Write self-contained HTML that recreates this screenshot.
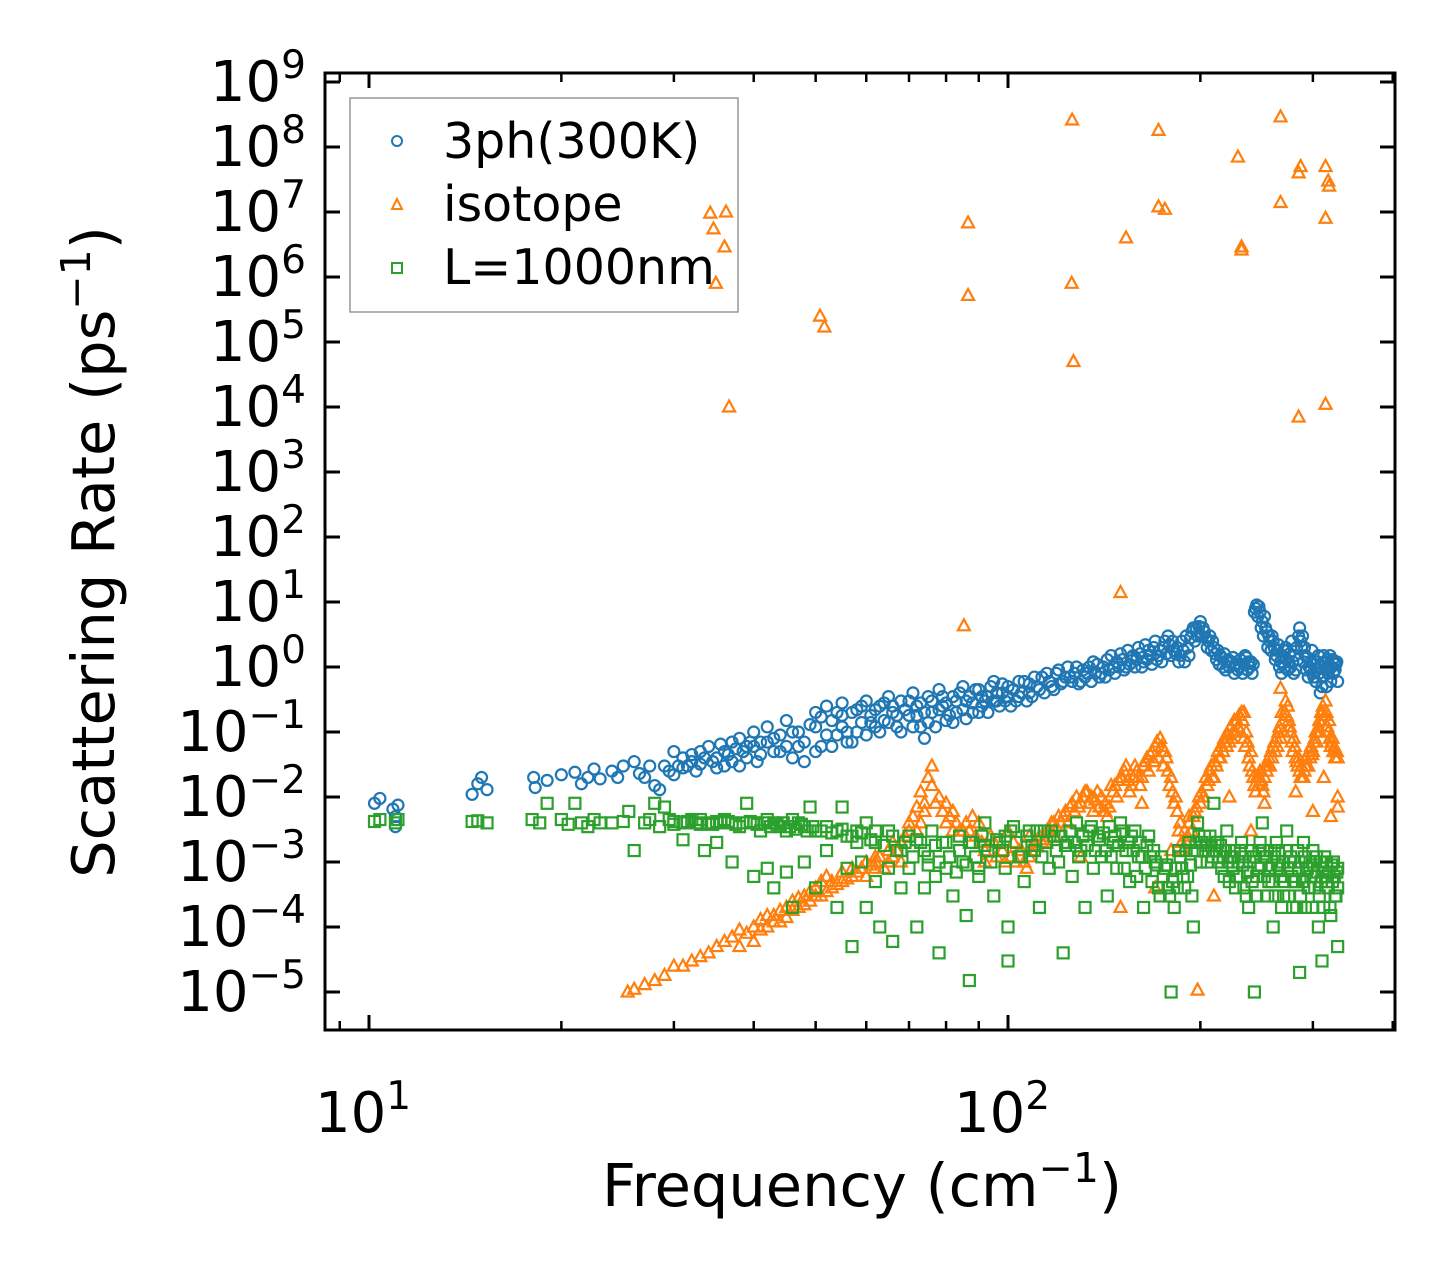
<!DOCTYPE html>
<html><head><meta charset="utf-8"><style>
html,body{margin:0;padding:0;background:#fff;}
svg{display:block;font-family:"DejaVu Sans","Liberation Sans",sans-serif;}
</style></head><body>
<svg id="chart" width="1455" height="1280" viewBox="0 0 1455 1280" xmlns="http://www.w3.org/2000/svg">
<rect width="1455" height="1280" fill="#fff"/>
<g>
<rect x="350" y="98" width="388" height="214" fill="#fff" stroke="#999" stroke-width="1.5"/>
<g><circle cx="397" cy="141" r="5" fill="none" stroke="#1f77b4" stroke-width="2"/><text x="443" y="158" font-size="49">3ph(300K)</text></g>
<g><polygon points="397,199 402,209 392,209" fill="none" stroke="#ff7f0e" stroke-width="2"/><text x="443" y="221" font-size="49">isotope</text></g>
<g><rect x="392" y="263" width="10" height="10" fill="none" stroke="#2ca02c" stroke-width="2"/><text x="443" y="284" font-size="49">L=1000nm</text></g>
</g>
<g id="marks"></g>
<g id="axes"></g>
<text x="862" y="1206" font-size="59" text-anchor="middle">Frequency (cm<tspan dy="-24" font-size="41">−1</tspan><tspan dy="24">)</tspan></text>
<text transform="translate(114,552) rotate(-90)" font-size="59" text-anchor="middle">Scattering Rate (ps<tspan dy="-24" font-size="41">−1</tspan><tspan dy="24">)</tspan></text>
</svg>
<script>
const xTicks = [10, 100];
const xTickLabels = ["1", "2"];
const yTicks = [-5,-4,-3,-2,-1,0,1,2,3,4,5,6,7,8,9];
const blueFreq = [10.2,10.4,10.9,11,11,11.1,14.5,14.8,15,15.3,18.1,18.2,19,20,21,21.5,22,22.5,23,24,24.5,25,26,26.5,27,27.5,28,28.5,29,29.5,30,30,31,31.5,32,33,33,34,35,35.5,36,37,37,38,38.5,39,40,40,41,42,42,43,44,45,45,46,47,48,48,50,50,51,52,53,54,55,55,56,57,58,59,60,61,62,63,64,65,66,67,68,70,71,72,73,74,75,76,78,79,80,82,83,85,86,88,90,91,93,95,96,98,100,101,104,106,108,110,112,115,117,120,122,125,128,130,133,136,140,143,146,150,153,156,160,163,166,170,172,175,178,182,185,190,195,200,203,206,210,215,220,225,230,235,240,245,248,250,253,256,260,263,266,270,275,280,285,288,292,296,300,305,310,312,318,322,326];
const blueRate = [.008,.0095,.0065,.0035,.005,.0075,.011,.016,.02,.013,.02,.014,.018,.022,.024,.016,.02,.027,.019,.025,.02,.03,.035,.023,.02,.03,.015,.013,.03,.025,.05,.022,.04,.03,.045,.05,.032,.06,.04,.065,.05,.07,.035,.08,.05,.04,.1,.06,.045,.12,.07,.05,.09,.15,.06,.04,.1,.07,.035,.2,.12,.06,.25,.15,.09,.28,.18,.1,.07,.22,.14,.3,.18,.12,.25,.15,.35,.2,.12,.3,.18,.4,.25,.12,.08,.35,.2,.45,.25,.15,.35,.2,.5,.3,.2,.45,.25,.35,.6,.3,.4,.5,.25,.35,.6,.4,.7,.45,.8,.5,.9,.6,.7,1,.6,.8,1.2,.8,1.3,1,1.6,1,1.4,2,1.2,1.8,2.5,1.5,2,3,1.8,1.2,3,4,5,3.5,2.5,2,1.5,1.2,1.4,1,1.5,1.2,9,7,5,4,3,2.5,1.5,1,1.8,1.2,.8,3,2,1.5,1,.8,1.2,.5,1.5,1,1.3,1.1];
const blueExtra = [[30.5,.03],[31,.028],[32,.035],[32.5,.025],[33.5,.04],[34.5,.035],[35,.028],[36,.03],[36.5,.045],[37.5,.055],[38,.03],[39,.06],[39.5,.07],[40.5,.035],[41,.07],[43,.08],[44,.05],[46,.1],[47,.06],[49,.13],[50,.05],[51,.17],[52,.09],[53,.06],[54,.2],[55,.12],[56,.07],[57,.2],[58,.1],[59,.25],[60,.09],[61,.14],[62,.22],[63,.1],[64,.28],[65,.14],[66,.25],[67,.18],[68,.1],[69,.22],[70,.3],[71,.12],[72,.18],[73,.28],[74,.2],[75,.14],[76,.3],[77,.12],[78,.22],[79,.35],[80,.28],[81,.18],[82,.14],[83,.3],[84,.4],[85,.22],[86,.16],[87,.35],[88,.28],[89,.45],[90,.2],[91,.35],[92,.3],[93,.2],[94,.5],[95,.3],[96,.4],[97,.25],[98,.55],[99,.3],[100,.35],[102,.45],[103,.3],[104,.6],[105,.4],[107,.3],[108,.55],[109,.35],[111,.5],[113,.7],[114,.4],[116,.6],[118,.45],[119,.8],[121,.55],[123,.7],[124,1],[126,.6],[127,.8],[129,.55],[131,.9],[132,.7],[134,1],[135,.6],[137,.8],[138,1.1],[139,.7],[141,1],[142,.7],[144,.9],[145,1.5],[147,.8],[148,1.2],[149,1],[151,1.3],[152,.9],[154,1.8],[155,1.1],[157,1.5],[158,1],[159,1.3],[161,1.6],[162,1],[164,2.2],[165,1.3],[167,1.5],[168,1.1],[169,2],[171,1.3],[173,1.8],[174,1.2],[176,2.5],[177,1.6],[179,2.2],[180,1.5],[181,2.5],[183,1.6],[184,2],[186,1.5],[187,2.5],[188,1.8],[189,1.2],[191,2],[192,1.5],[193,2.8],[194,3.5],[196,2.5],[197,4],[198,3],[199,4.2],[201,3],[202,4],[204,2.8],[205,2],[207,3],[208,1.8],[209,2.5],[211,1.6],[212,1.3],[213,1.8],[214,1.1],[216,1.4],[217,1],[218,1.6],[219,.9],[221,1.3],[222,1],[224,1.2],[226,.8],[227,1.1],[229,.9],[231,1.3],[233,.8],[234,1.1],[236,1.4],[237,.9],[238,1.2],[239,1],[241,.8],[242,1.1],[243,7],[244,8],[246,6],[247,8.5],[249,4],[251,3],[252,6],[254,3.5],[255,2],[257,2.5],[258,1.8],[259,3],[261,2],[262,1.3],[264,1.8],[265,2.2],[267,1.2],[268,.8],[269,1.5],[271,1],[272,2],[273,1.3],[274,.9],[276,1.6],[277,1],[278,2.5],[279,1.2],[281,1.5],[282,.9],[283,2],[284,1.3],[286,4],[287,2.5],[289,3],[290,1.2],[291,2],[293,.9],[294,1.4],[295,.7],[297,1.2],[298,.9],[299,1.8],[301,.7],[302,1.1],[303,.6],[304,.9],[306,1.5],[307,.8],[308,.4],[309,1],[311,.7],[313,1.2],[314,.9],[315,.5],[316,1.3],[317,.8],[319,1.5],[320,.6],[321,1],[323,.8],[324,1.2],[325,.9],[327,1.2],[328,.6]];
const orangeFreq = [50.8,51.6,34.2,34.6,36.2,36,34.9,36.6,86.6,86.6,85.3,126,125.8,126.6,153,150,172,172,176,229,232,232,267,267,287,285,285,314,317,318,314,314,267,234,198,
25.4,26,27,28,29,30,31,32,33,34,35,36,37,38,40,41,42,43,44,45,46,47,48,49,50,51,52,53,55,57,60,62,65,68,70,72,73,74,75,76,77,80,85,88,90,95,100,105,110,115,120,125,128,130,133,136,140,145,150,153,156,160,165,170,173,176,180,183,186,190,195,200,205,210,215,220,225,228,232,236,240,245,250,255,260,265,268,272,275,280,285,290,295,300,305,310,314,318,322,326,328,328,328,130,150,170,210,180,240,300,320,62,66,82,92,108,118,142,162,192,222,252,282,312];
const orangeRate = [2.5e5,1.7e5,9.6e6,5.5e6,1e7,2.9e6,8e5,1e4,6.8e6,5.2e5,4.3,2.6e8,8e5,5e4,4e6,14,1.8e8,1.2e7,1.1e7,7e7,2.9e6,2.6e6,2.9e8,1.4e7,5e7,4e7,7e3,5e7,3e7,2.5e7,8e6,1.1e4,.47,.2,1.07e-5,
1e-5,1.1e-5,1.3e-5,1.5e-5,1.8e-5,2.5e-5,2.5e-5,3e-5,3.5e-5,4e-5,5e-5,6e-5,7e-5,9e-5,1e-4,1.3e-4,1.5e-4,1.2e-4,1.8e-4,2e-4,2.5e-4,2.8e-4,3e-4,3.5e-4,4e-4,5e-4,6e-4,5e-4,7e-4,8e-4,1e-3,8e-4,1.5e-3,2e-3,4e-3,7e-3,.012,.006,.02,.03,.008,.004,.003,.005,.004,.002,.003,.0015,.002,.003,.005,.007,.01,.008,.012,.006,.01,.015,.02,.03,.015,.02,.04,.06,.08,.05,.02,.01,.004,.002,.005,.008,.015,.02,.04,.06,.1,.15,.2,.1,.05,.02,.015,.03,.06,.1,.2,.3,.15,.08,.04,.02,.03,.05,.1,.2,.3,.15,.08,.05,.04,.01,.007,.0012,.0002,.0004,.0003,.0015,.003,.006,.005,.0012,.002,.003,.001,.0025,.004,.006,.008,.005,.01,.008,.012,.02];
const orangeExtra = [[38,5e-5],[39,8e-5],[40,6e-5],[41,9e-5],[42,1e-4],[43,1.5e-4],[44,1.2e-4],[45,1.4e-4],[46,1.8e-4],[47,2e-4],[48,2.2e-4],[49,2.5e-4],[50,3e-4],[51,3e-4],[52,3.5e-4],[53,4e-4],[54,4.5e-4],[55,5e-4],[56,5.5e-4],[57,6e-4],[58,7e-4],[59,8e-4],[60,6e-4],[61,9e-4],[62,1e-3],[63,1.2e-3],[64,8e-4],[65,1e-3],[66,1.2e-3],[67,1.5e-3],[68,1e-3],[69,2.5e-3],[70,3e-3],[71,5e-3],[72,3e-3],[73,4e-3],[74,8e-3],[76,.015],[78,.01],[79,.006],[80,.008],[81,.005],[82,.006],[83,.004],[84,.003],[86,.004],[87,.003],[89,.0025],[91,.002],[92,.0015],[94,.0025],[96,.0012],[98,.0015],[99,.001],[101,.0012],[102,.002],[103,.001],[104,.0015],[106,.001],[107,.0008],[108,.0012],[109,.0015],[111,.0018],[112,.0025],[113,.002],[114,.0022],[116,.003],[117,.004],[118,.0025],[119,.0035],[121,.004],[122,.005],[123,.006],[124,.004],[126,.008],[127,.006],[129,.007],[131,.01],[132,.012],[134,.008],[135,.01],[137,.009],[138,.012],[139,.007],[141,.006],[142,.008],[143,.005],[144,.007],[146,.012],[147,.015],[148,.01],[149,.018],[151,.02],[152,.025],[154,.018],[155,.012],[157,.02],[158,.03],[159,.025],[161,.015],[162,.02],[163,.03],[164,.035],[166,.025],[167,.045],[168,.05],[169,.035],[171,.07],[172,.04],[174,.06],[175,.03],[177,.04],[178,.025],[179,.015],[181,.012],[182,.008],[184,.006],[185,.003],[187,.002],[188,.0015],[189,.003],[191,.0025],[192,.004],[194,.003],[196,.006],[197,.007],[199,.01],[201,.012],[202,.01],[204,.02],[206,.018],[207,.025],[208,.03],[209,.02],[211,.035],[212,.03],[213,.05],[214,.04],[216,.06],[217,.05],[218,.08],[219,.07],[221,.09],[222,.07],[223,.12],[224,.08],[226,.15],[227,.1],[229,.12],[230,.18],[231,.1],[233,.15],[234,.08],[235,.06],[237,.07],[238,.04],[239,.03],[241,.025],[242,.02],[243,.015],[244,.012],[246,.015],[247,.02],[248,.025],[249,.018],[251,.012],[252,.02],[253,.03],[254,.025],[256,.04],[257,.03],[258,.05],[259,.04],[261,.07],[262,.05],[263,.08],[264,.06],[266,.12],[267,.08],[269,.15],[270,.1],[271,.2],[273,.18],[274,.25],[276,.12],[277,.1],[278,.07],[279,.05],[281,.06],[282,.04],[283,.035],[284,.03],[286,.025],[287,.02],[288,.03],[289,.02],[291,.025],[292,.03],[293,.04],[294,.03],[296,.05],[297,.04],[298,.06],[299,.045],[301,.07],[302,.08],[303,.1],[304,.07],[306,.12],[307,.15],[308,.1],[309,.2],[311,.25],[312,.15],[313,.18],[315,.2],[316,.12],[317,.1],[319,.08],[320,.06],[321,.07],[323,.05],[324,.06],[325,.04],[327,.05]];
const greenFreq = [10.2,10.4,11,11.1,14.5,14.8,15.3,18,18.5,19,20,20.5,21,21.5,22,22.5,23,24,25,25.5,26,27,27.5,28,28.5,29,29.5,30,31,31,32,33,33.5,34,35,35,36,37,37,38,39,40,40,41,42,42,43,43,44,45,45,46,46,47,48,48,49,50,50,52,52,54,54,55,56,56,57,58,59,60,60,62,62,63,65,65,66,67,68,70,70,72,73,74,75,76,77,78,79,80,82,84,85,86,87,88,90,92,93,95,97,99,100,100,102,104,106,108,110,112,114,116,118,120,122,124,126,128,130,132,134,136,138,140,143,146,148,150,153,155,158,160,163,166,170,173,176,178,180,182,185,188,192,195,198,200,203,206,210,213,216,220,224,228,232,236,240,243,246,250,253,256,260,263,266,270,273,276,280,283,286,290,293,296,300,303,306,310,313,316,320,323,326,328,328];
const greenRate = [.0042,.0045,.004,.0045,.0042,.0043,.004,.0045,.004,.008,.0045,.0038,.008,.004,.0035,.0045,.004,.004,.0042,.006,.0015,.004,.0045,.008,.0035,.007,.0045,.0042,.004,.0022,.0045,.0038,.0015,.004,.0042,.002,.0045,.004,.001,.0035,.008,.004,.0006,.003,.0045,.0008,.004,.0004,.0035,.003,.0007,.0045,.0002,.004,.0035,.001,.007,.003,.0004,.0035,.0015,.003,.0002,.007,.0025,.0008,.00005,.003,.001,.004,.0002,.002,.0005,.0001,.003,.0008,.00006,.0015,.0004,.0025,.0008,.0001,.002,.0004,.0012,.003,.0006,.00004,.002,.0008,.0003,.0025,.001,.00015,.000015,.002,.0006,.004,.0015,.0003,.002,.0008,.00003,.0001,.0035,.0012,.0005,.003,.0015,.0002,.003,.0008,.0025,.001,.00004,.002,.0006,.004,.0015,.0002,.003,.0008,.0025,.0012,.0003,.002,.0008,.004,.0015,.0005,.003,.0012,.0002,.0025,.001,.0003,.0008,.0004,.00001,.0002,.0015,.0006,.002,.0001,.004,.001,.0025,.0015,.008,.002,.0008,.003,.0012,.0006,.002,.0003,.0015,.00001,.0008,.004,.0012,.0005,.0001,.002,.0008,.0003,.003,.001,.0005,.0002,.00002,.002,.0008,.0004,.0015,.0006,.0001,.00003,.0012,.0005,.00015,.001,.0003,.0008,.00005];
const greenExtra = [[30,.0038],[31.5,.0042],[32.5,.004],[33,.0045],[34.5,.0038],[35.5,.004],[36.5,.0042],[37.5,.0038],[38.5,.004],[39.5,.0042],[40.5,.0038],[41.5,.004],[42.5,.0035],[43.5,.0038],[44.5,.004],[45.5,.0035],[46.5,.0032],[47.5,.0038],[48.5,.003],[49.5,.0035],[51,.003],[53,.0028],[55,.0032],[57,.0025],[58,.002],[59,.0028],[61,.0022],[62,.003],[64,.0018],[66,.0025],[68,.0015],[69,.002],[71,.0012],[72,.0022],[74,.0015],[75,.0009],[77,.0018],[78,.001],[80,.002],[81,.0012],[83,.0007],[84,.0015],[86,.0009],[87,.002],[89,.0012],[90,.0008],[91,.0025],[92,.0018],[94,.001],[96,.0022],[98,.0015],[99,.0025],[101,.003],[103,.002],[105,.0012],[107,.0025],[109,.0018],[111,.003],[113,.0012],[115,.002],[117,.003],[119,.0015],[121,.0025],[123,.0018],[125,.003],[127,.002],[129,.0012],[131,.0025],[133,.0018],[135,.0035],[137,.0015],[139,.0022],[141,.0028],[142,.0015],[144,.0035],[145,.0012],[147,.0025],[149,.0018],[151,.003],[152,.0008],[154,.002],[156,.0025],[157,.0015],[159,.0006],[161,.002],[162,.0012],[164,.0008],[165,.0018],[167,.0012],[168,.0005],[169,.0015],[171,.0009],[172,.0004],[174,.0012],[175,.0006],[177,.0009],[179,.0003],[181,.0005],[183,.0008],[184,.0004],[186,.0012],[187,.0008],[189,.0004],[190,.0015],[191,.0006],[193,.0009],[194,.0003],[196,.0015],[197,.002],[199,.0025],[201,.002],[202,.0015],[204,.0018],[205,.001],[207,.0025],[208,.0018],[209,.0012],[211,.002],[212,.0015],[214,.001],[215,.0018],[217,.0012],[218,.0006],[219,.0015],[221,.001],[222,.0005],[223,.0012],[225,.0008],[226,.0015],[227,.0004],[229,.001],[230,.0006],[231,.0015],[233,.0009],[234,.0004],[235,.0012],[237,.0007],[238,.0002],[239,.001],[241,.0005],[242,.0012],[244,.0003],[245,.0006],[247,.0015],[248,.002],[249,.0009],[251,.0015],[252,.0006],[254,.0012],[255,.0003],[257,.0008],[258,.0015],[259,.0005],[261,.0012],[262,.0003],[264,.0009],[265,.0015],[267,.0006],[268,.0002],[269,.001],[271,.0005],[272,.0015],[274,.0008],[275,.0003],[277,.0012],[278,.0006],[279,.0002],[281,.001],[282,.0005],[284,.0015],[285,.0008],[287,.0003],[288,.001],[289,.0005],[291,.0012],[292,.0002],[294,.0008],[295,.0004],[297,.001],[298,.0006],[299,.0002],[301,.0009],[302,.0004],[304,.0012],[305,.0007],[307,.0003],[308,.001],[309,.0005],[311,.0008],[312,.0002],[314,.0006],[315,.001],[317,.0004],[318,.0007],[319,.0002],[321,.0009],[322,.0005],[324,.0006],[325,.0003],[327,.0007],[328,.0004]];

const NS = "http://www.w3.org/2000/svg";
const X0 = 369, XD = 639, Y0 = 667, YD = 65;
function xs(f){ return X0 + XD*(Math.log10(f)-1); }
function ys(r){ return Y0 - YD*Math.log10(r); }
function mk(tag, attrs, parent){ const e=document.createElementNS(NS,tag); for(const k in attrs) e.setAttribute(k,attrs[k]); parent.appendChild(e); return e; }
const marks = document.getElementById('marks');
const axes = document.getElementById('axes');
function merge(fa, ra, extra){ const out = fa.map((f,i)=>[f, ra[i]]); return out.concat(extra); }

const gB = mk('g',{},marks);


merge(blueFreq, blueRate, blueExtra).forEach(([f,r])=>{
  const c = mk('circle',{cx:xs(f),cy:ys(r),r:5.5,fill:'none',stroke:'#1f77b4','stroke-width':2.2},gB);
  
  
});
const gO = mk('g',{},marks);


merge(orangeFreq, orangeRate, orangeExtra).forEach(([f,r])=>{
  const x=xs(f), y=ys(r);
  const p = mk('polygon',{points:`${x},${y-6.5} ${x+6},${y+4.5} ${x-6},${y+4.5}`,fill:'none',stroke:'#ff7f0e','stroke-width':2.2},gO);
  
  
});
const gG = mk('g',{},marks);


merge(greenFreq, greenRate, greenExtra).forEach(([f,r])=>{
  const s = mk('rect',{x:xs(f)-5.5,y:ys(r)-5.5,width:11,height:11,fill:'none',stroke:'#2ca02c','stroke-width':2.2},gG);
  
  
});

const L=325,R=1395,T=73,B=1030;
const frame = mk('rect',{x:L,y:T,width:R-L,height:B-T,fill:'none',stroke:'#000','stroke-width':3},axes);


[9,20,30,40,50,60,70,80,90,200,300,400].forEach(f=>{
  const x=xs(f); if(x<L||x>R) return;
  mk('line',{x1:x,y1:B,x2:x,y2:B-9,stroke:'#000','stroke-width':2.5},axes);
  mk('line',{x1:x,y1:T,x2:x,y2:T+9,stroke:'#000','stroke-width':2.5},axes);
});
xTicks.forEach((f,i)=>{
  const x=xs(f);
  mk('line',{x1:x,y1:B,x2:x,y2:B-15,stroke:'#000','stroke-width':3},axes);
  mk('line',{x1:x,y1:T,x2:x,y2:T+15,stroke:'#000','stroke-width':3},axes);
  const t = mk('text',{x:x-6,y:1132,'font-size':56,'text-anchor':'middle'},axes);
  
  
  t.innerHTML = `10<tspan dy="-23" font-size="39">${xTickLabels[i]}</tspan>`;
});
yTicks.forEach(e=>{
  const y=Y0-YD*e;
  mk('line',{x1:L,y1:y,x2:L+15,y2:y,stroke:'#000','stroke-width':3},axes);
  mk('line',{x1:R,y1:y,x2:R-15,y2:y,stroke:'#000','stroke-width':3},axes);
  const lbl = e<0 ? '−'+(-e) : ''+e;
  const t = mk('text',{x:306,y:y+19,'font-size':56,'text-anchor':'end'},axes);
  
  
  t.innerHTML = `10<tspan dy="-23" font-size="39">${lbl}</tspan>`;
});
</script>
</body></html>
